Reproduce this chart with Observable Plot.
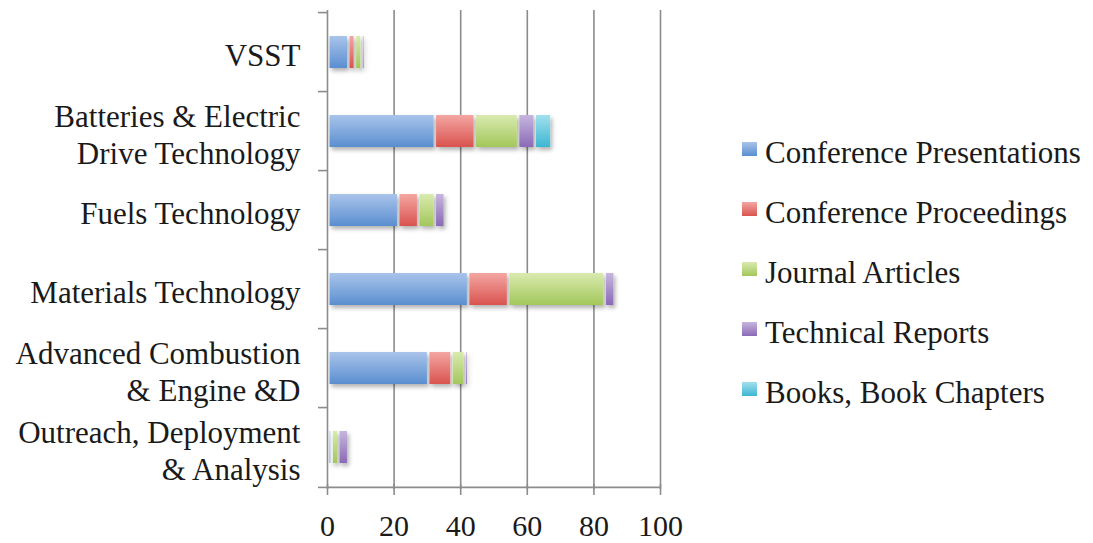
<!DOCTYPE html>
<html>
<head>
<meta charset="utf-8">
<script src="https://cdn.jsdelivr.net/npm/d3@7"></script>
<script src="https://cdn.jsdelivr.net/npm/@observablehq/plot@0.6"></script>
<style>
  html, body { margin: 0; padding: 0; background: #fff; }
  #wrap { position: relative; width: 1093px; height: 543px; font-family: "Liberation Serif", "Times New Roman", serif; }
  #legend { position: absolute; left: 742px; top: 123px; }
  .item { display: flex; align-items: center; height: 60px; font-size: 31px; color: #1a1a1a; white-space: nowrap; }
  .sw { width: 15px; height: 14px; margin-right: 8px; margin-top: -9px; }
</style>
</head>
<body>
<div id="wrap"><div id="legend"></div></div>
<script>
const categories = ["VSST", "Batteries & Electric Drive Technology", "Fuels Technology", "Materials Technology", "Advanced Combustion & Engine &D", "Outreach, Deployment & Analysis"];
const categoryLabels = ["VSST", "Batteries & Electric\nDrive Technology", "Fuels Technology", "Materials Technology", "Advanced Combustion\n& Engine &D", "Outreach, Deployment\n& Analysis"];
const seriesNames = ["Conference Presentations", "Conference Proceedings", "Journal Articles", "Technical Reports", "Books, Book Chapters"];
const conferencePresentations = [6, 32, 21, 42, 30, 1];
const conferenceProceedings = [2, 12, 6, 12, 7, 0];
const journalArticles = [2, 13, 5, 29, 4, 2];
const technicalReports = [1, 5, 3, 3, 1, 3];
const booksChapters = [0, 5, 0, 0, 0, 0];
const xTicks = [0, 20, 40, 60, 80, 100];

const seriesValues = [conferencePresentations, conferenceProceedings, journalArticles, technicalReports, booksChapters];
const gradTop = ["#a9c4ea", "#f4a6a2", "#d9eab0", "#c6b6de", "#a2e0ee"];
const gradBottom = ["#5a8ed0", "#d9534f", "#a3c75a", "#8a6ab6", "#3db6d2"];

const data = [];
seriesValues.forEach((vals, s) => {
  vals.forEach((v, i) => data.push({category: categories[i], series: seriesNames[s], value: v}));
});

const W = 1093, H = 543, mt = 10, mb = 54, ml = 327, mr = 433;
const step = (H - mt - mb) / categories.length;

const boundaries = categories.map(c => ({c, dy: -step / 2})).concat([{c: categories[categories.length - 1], dy: step / 2}]);

const chart = Plot.plot({
  width: W,
  height: H,
  marginTop: mt,
  marginBottom: mb,
  marginLeft: ml,
  marginRight: mr,
  style: {fontFamily: '"Liberation Serif", "Times New Roman", serif', background: "#fff"},
  x: {domain: [0, 100], axis: null},
  y: {domain: categories, paddingInner: 0.6, paddingOuter: 0.3, axis: null},
  color: {domain: seriesNames, range: seriesNames.map((d, i) => `url(#g${i})`)},
  marks: [
    Plot.ruleX(xTicks, {stroke: "#8c8c8c", strokeWidth: 1.6}),
    Plot.barX(data.filter(d => d.value > 0), {y: "category", x: "value", fill: "series", order: seriesNames, insetLeft: 2.5}),
    Plot.ruleY([categories[categories.length - 1]], {dy: step / 2, x1: 0, x2: 100, stroke: "#8c8c8c", strokeWidth: 1.6}),
    Plot.tickX(xTicks, {x: d => d, y: null, stroke: "#8c8c8c", strokeWidth: 1.6}),
    ...boundaries.map(b => Plot.ruleY([b.c], {dy: b.dy, x1: -2.7, x2: 0, stroke: "#8c8c8c", strokeWidth: 1.6})),
    Plot.text(xTicks, {x: d => d, frameAnchor: "bottom", dy: 46, text: d => String(d), fontSize: 30, fill: "#1a1a1a"}),
    Plot.text(categories, {y: d => d, x: 0, text: (d, i) => categoryLabels[i], textAnchor: "end", dx: -27, dy: 2, fontSize: 31, lineHeight: 1.2, fill: "#1a1a1a"})
  ]
});

// gradients and shadow
const svg = d3.select(chart);
const defs = svg.insert("defs", ":first-child");
gradTop.forEach((c, i) => {
  const g = defs.append("linearGradient").attr("id", `g${i}`).attr("x1", 0).attr("y1", 0).attr("x2", 0).attr("y2", 1);
  g.append("stop").attr("offset", "0%").attr("stop-color", c);
  g.append("stop").attr("offset", "100%").attr("stop-color", gradBottom[i]);
});
const f = defs.append("filter").attr("id", "shadow").attr("x", "-10%").attr("y", "-20%").attr("width", "130%").attr("height", "160%");
f.append("feDropShadow").attr("dx", 2).attr("dy", 3).attr("stdDeviation", 2).attr("flood-color", "#000").attr("flood-opacity", 0.3);
svg.selectAll("g[aria-label='bar']").attr("filter", "url(#shadow)");

// tick marks crossing the x axis line
svg.selectAll("g[aria-label='tick'] line").each(function() {
  const y2 = +this.getAttribute("y2");
  this.setAttribute("y1", y2 - 5);
  this.setAttribute("y2", y2 + 6);
});

document.getElementById("wrap").prepend(chart);
chart.style.position = "absolute";
chart.style.left = "0";
chart.style.top = "0";

const legend = document.getElementById("legend");
seriesNames.forEach((s, i) => {
  const it = document.createElement("div");
  it.className = "item";
  const sw = document.createElement("div");
  sw.className = "sw";
  sw.style.background = `linear-gradient(${gradTop[i]}, ${gradBottom[i]})`;
  const t = document.createElement("span");
  t.textContent = s;
  it.appendChild(sw);
  it.appendChild(t);
  legend.appendChild(it);
});
</script>
</body>
</html>
